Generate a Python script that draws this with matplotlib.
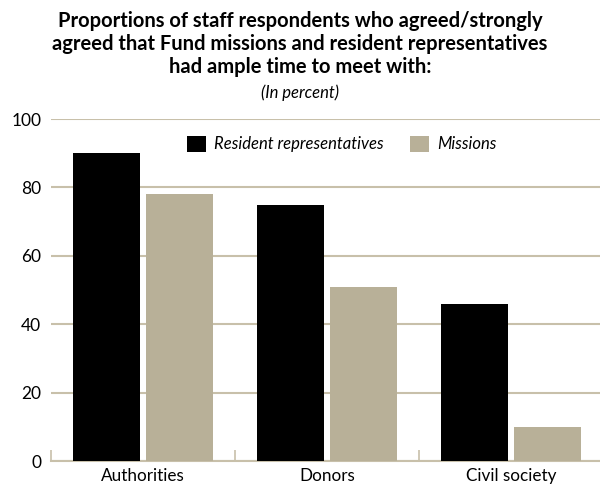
import numpy as np
import matplotlib
matplotlib.use('Agg')
from matplotlib import pyplot as plt

plt.rcParams['font.family'] = ['Lato', 'DejaVu Sans']

categories = ['Authorities', 'Donors', 'Civil society']
resident_reps = [90, 75, 46]
missions = [78, 51, 10]
series_names = ['Resident representatives', 'Missions']

TAN = '#b8b098'
GRID = '#c8c0aa'

fig = plt.figure(figsize=(6.0, 4.91), dpi=100)
ax = fig.add_axes([51/600, 30/491, 552/600, 342/491])

x = np.arange(len(categories))
w = 0.364
off = 0.201
ax.bar(x - off, resident_reps, w, color='black', label=series_names[0], zorder=3)
ax.bar(x + off, missions, w, color=TAN, label=series_names[1], zorder=3)

ax.set_xlim(-0.5, 2.5)
ax.set_ylim(0, 100)
ax.set_yticks(range(0, 101, 20))
ax.yaxis.grid(True, color=GRID, lw=1.5, zorder=0)
ax.tick_params(axis='y', length=0, pad=7, labelsize=12.5)

# category labels at centres, small boundary ticks between groups
ax.set_xticks(x)
ax.set_xticklabels(categories, fontsize=12.3)
ax.tick_params(axis='x', length=0, pad=5)
ax.set_xticks([-0.5, 0.5, 1.5], minor=True)
ax.tick_params(axis='x', which='minor', direction='in', length=8, color=GRID, width=1.2)

for s in ['top', 'right', 'left']:
    ax.spines[s].set_visible(False)
ax.spines['bottom'].set_color(GRID)
ax.spines['bottom'].set_linewidth(1.5)

leg = ax.legend(loc='center', bbox_to_anchor=(0.527, 0.927), ncol=2, frameon=False,
                handlelength=1.1, handleheight=1.1, handletextpad=0.5, columnspacing=1.6,
                prop={'style': 'italic', 'size': 12})

fig.text(0.5, 1 - 11/491, 'Proportions of staff respondents who agreed/strongly\n'
         'agreed that Fund missions and resident representatives\n'
         'had ample time to meet with:', ha='center', va='top',
         fontsize=14.5, fontweight='bold', linespacing=1.2)
fig.text(0.5, 1 - 93/491, '(In percent)', ha='center', va='center', fontsize=12, style='italic')

fig.savefig('out.png', dpi=100)
